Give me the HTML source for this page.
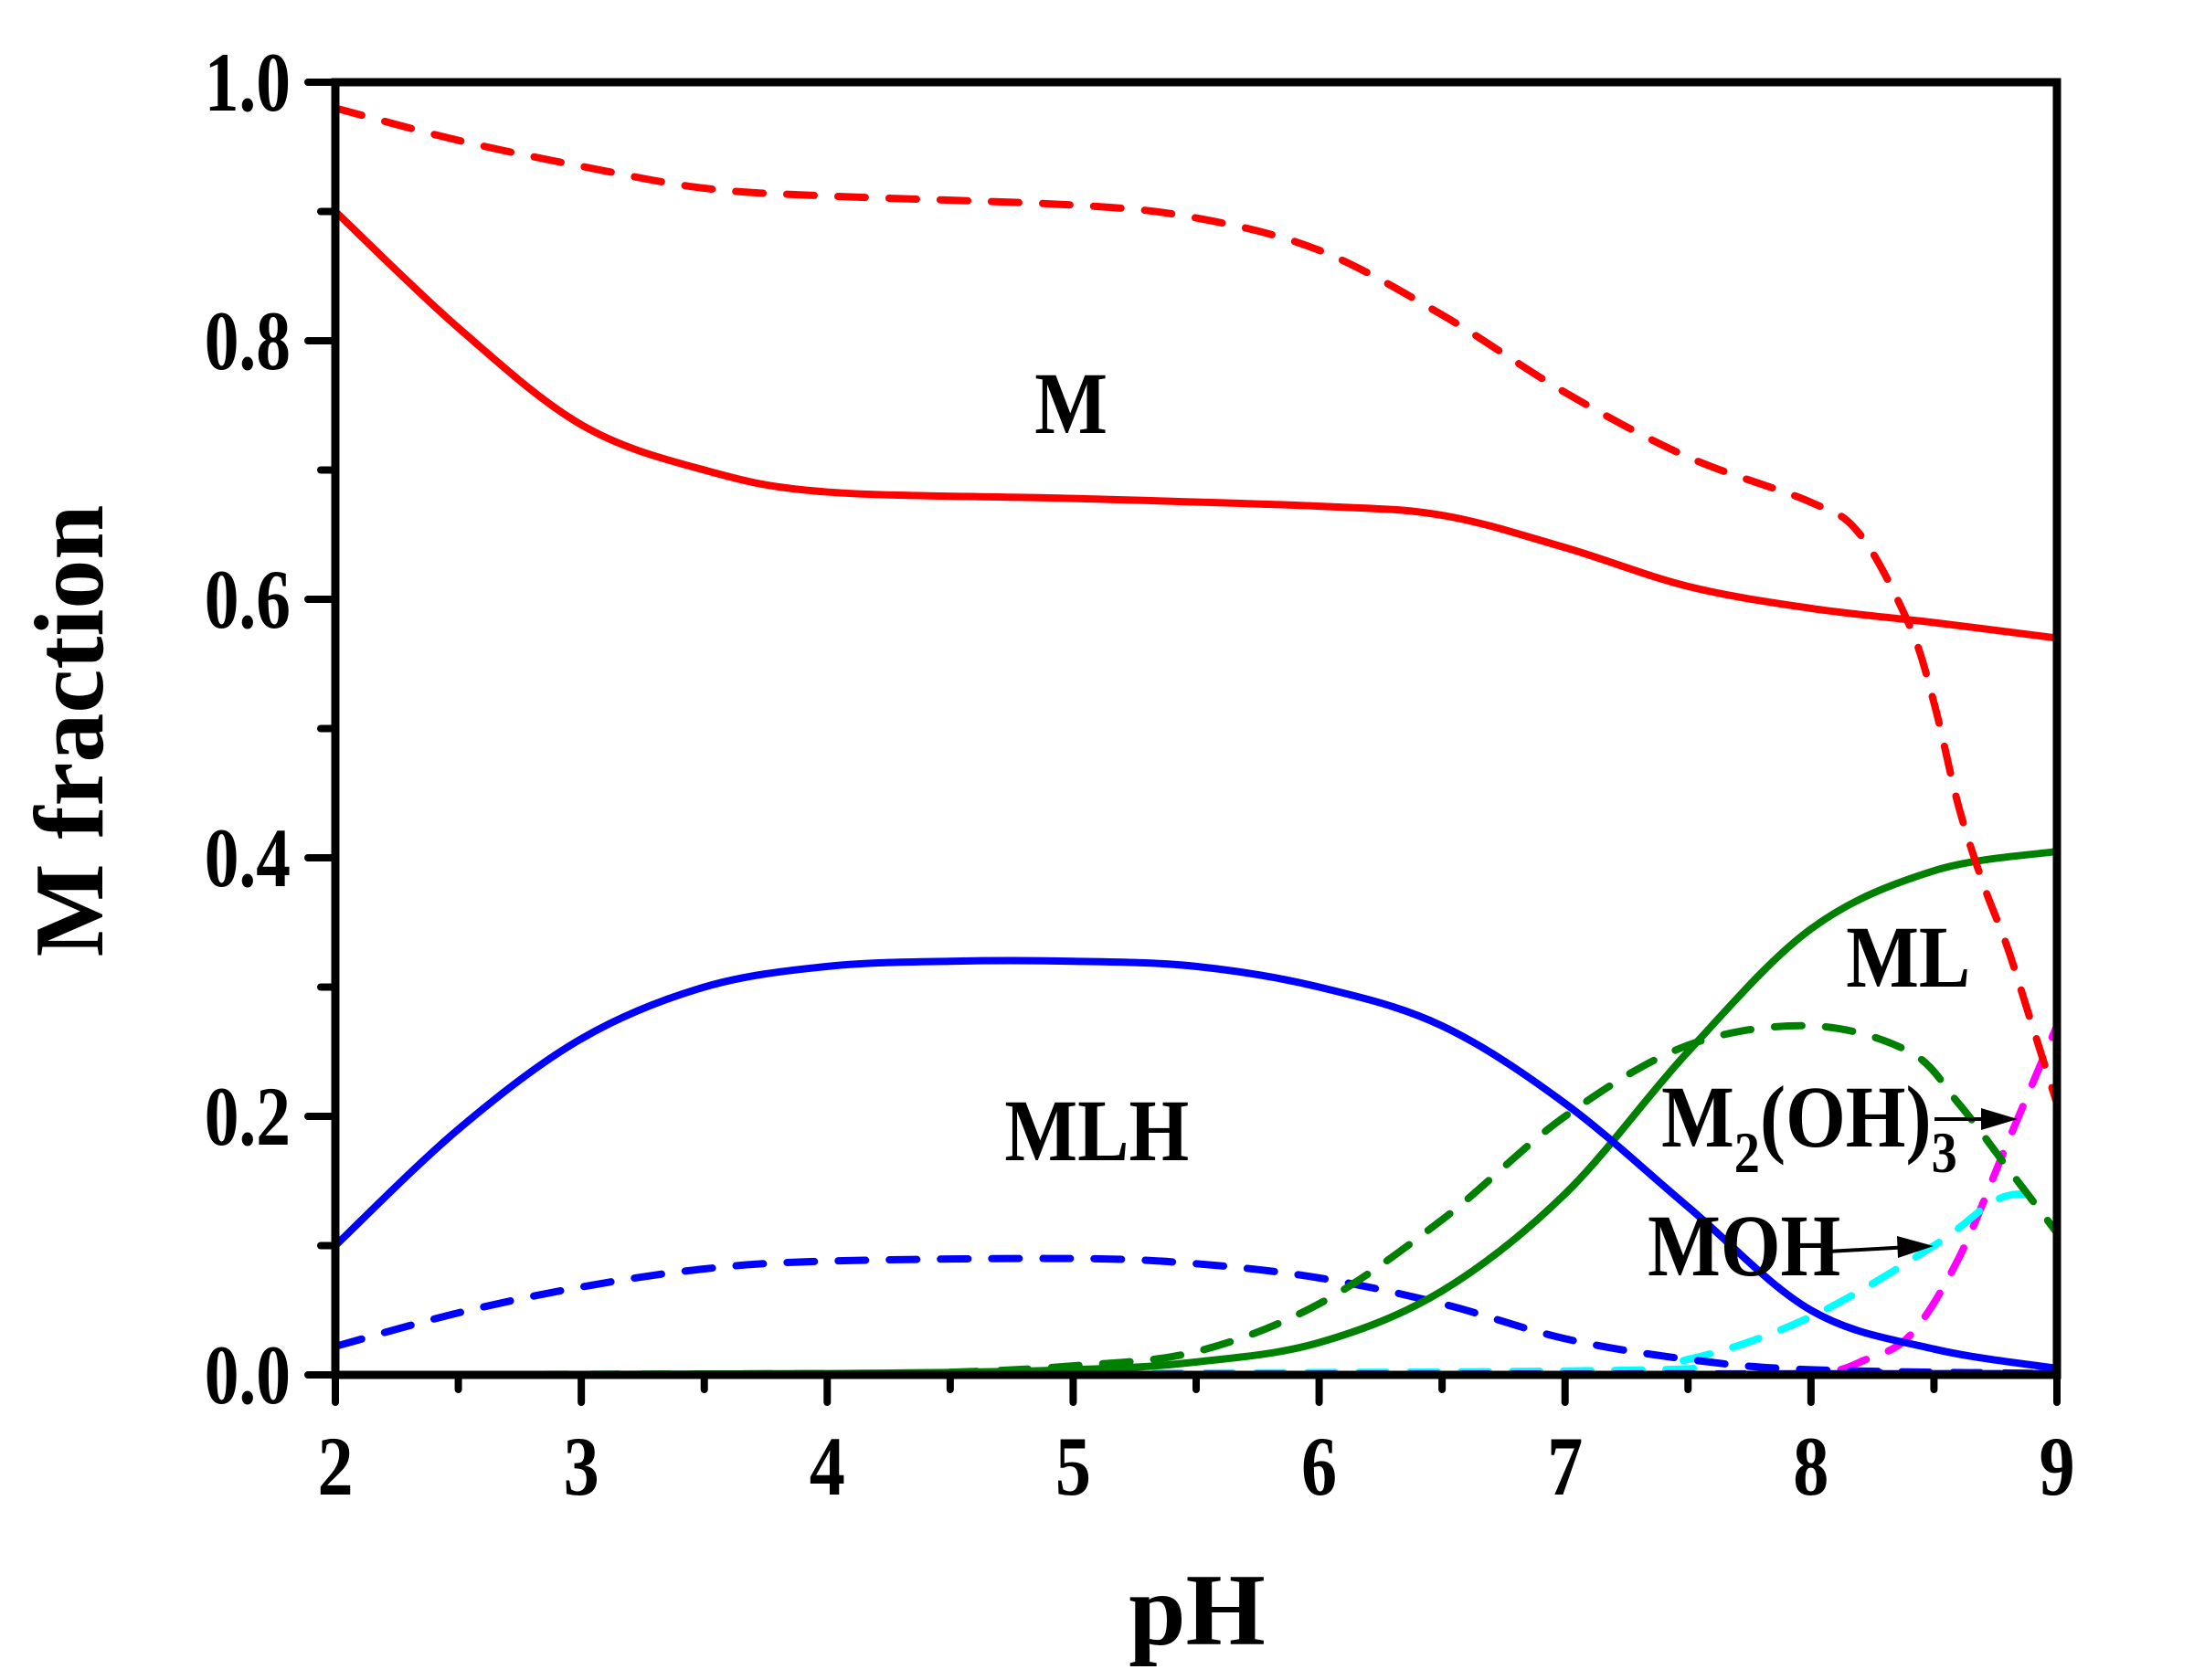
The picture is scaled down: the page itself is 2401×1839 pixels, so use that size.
<!DOCTYPE html>
<html><head><meta charset="utf-8"><style>
html,body{margin:0;padding:0;background:#fff;}
svg{display:block;}
text{font-family:"Liberation Serif",serif;font-weight:bold;fill:#000;}
</style></head><body>
<svg id="s" width="2401" height="1839" viewBox="0 0 2401 1839" xmlns="http://www.w3.org/2000/svg">
<g id="curves" fill="none" stroke-width="8" stroke-linecap="round"></g>
<g stroke="#000" stroke-linecap="round">
<rect x="367" y="90" width="1884" height="1415" fill="none" stroke-width="9"/>
<g id="ticks" stroke-width="8"></g>
</g>
<g font-size="92" text-anchor="end" id="ylab" transform="scale(0.82,1)"></g>
<g font-size="92" text-anchor="middle" id="xlab" transform="scale(0.85,1)"></g>
<text x="1310" y="1800" font-size="112" text-anchor="middle">pH</text>
<text transform="translate(112,800) rotate(-90)" font-size="108" text-anchor="middle">M fraction</text>
<g transform="scale(0.88,1)" font-size="96">
<text x="1332" y="474" text-anchor="middle">M</text>
<text x="1364" y="1270" text-anchor="middle">MLH</text>
<text x="2373" y="1080" text-anchor="middle">ML</text>
<text x="2066" y="1255">M<tspan font-size="64" dy="28">2</tspan><tspan dy="-28">(OH)</tspan><tspan font-size="64" dy="28">3</tspan></text>
<text x="2049" y="1396">MOH</text>
</g>
<g stroke="#000" stroke-width="4" fill="#000">
<line x1="2117" y1="1225" x2="2180" y2="1225"/><polygon points="2208,1225 2168,1213 2168,1237" stroke="none"/>
<line x1="2000" y1="1370" x2="2090" y2="1365"/><polygon points="2116,1364 2076,1353 2077,1377" stroke="none"/>
</g>
</svg>
<script>
var X=function(p){return 367+(p-2)*1884/7;},Y=function(f){return 1505-f*1415;};
var NS="http://www.w3.org/2000/svg";
function path(pts,col,dash){
 var P=pts.map(function(a){return [X(a[0]),Y(a[1])];});
 var d="M"+P[0][0]+","+P[0][1];
 for(var i=0;i<P.length-1;i++){
  var p0=P[i-1]||P[i],p1=P[i],p2=P[i+1],p3=P[i+2]||P[i+1];
  d+=" C"+(p1[0]+(p2[0]-p0[0])/6)+","+(p1[1]+(p2[1]-p0[1])/6)+" "+(p2[0]-(p3[0]-p1[0])/6)+","+(p2[1]-(p3[1]-p1[1])/6)+" "+p2[0]+","+p2[1];
 }
 var e=document.createElementNS(NS,"path");e.setAttribute("d",d);e.setAttribute("stroke",col);
 if(dash)e.setAttribute("stroke-dasharray","30 26");
 document.getElementById("curves").appendChild(e);
}
path([[2,0],[9,0]],"#ff0000",true);
path([[2,0],[8,0],[8.1,0.003],[8.2,0.01],[8.4,0.03],[8.6,0.09],[8.8,0.18],[9,0.27]],"#ff00ff",true);
path([[2,0],[7,0.003],[7.5,0.012],[8,0.045],[8.5,0.1],[8.75,0.135],[8.9,0.14],[8.95,0.138]],"#00ffff",true);
path([[2,0],[9,0.001]],"#0000ff",true);
path([[2,0.022],[2.5,0.048],[3,0.068],[3.5,0.082],[4,0.088],[5,0.09],[5.5,0.086],[6,0.075],[6.5,0.055],[7,0.028],[7.5,0.012],[8,0.004],[9,0.001]],"#0000ff",true);
path([[2,0],[4,0.001],[4.5,0.002],[5,0.007],[5.5,0.018],[6,0.055],[6.5,0.12],[7,0.2],[7.5,0.255],[8,0.27],[8.4,0.25],[8.6,0.21],[8.8,0.16],[9,0.11]],"#008000",true);
path([[2,0],[4,0.001],[5,0.004],[5.5,0.01],[6,0.025],[6.5,0.065],[7,0.14],[7.5,0.25],[8,0.345],[8.5,0.39],[9,0.405]],"#008000",false);
path([[2,0.1],[2.5,0.19],[3,0.26],[3.5,0.3],[4,0.316],[4.5,0.32],[5,0.32],[5.5,0.316],[6,0.3],[6.5,0.27],[7,0.21],[7.5,0.13],[8,0.05],[8.5,0.02],[9,0.005]],"#0000ff",false);
path([[2,0.9],[2.5,0.81],[3,0.735],[3.5,0.7],[4,0.683],[5,0.678],[6,0.672],[6.5,0.665],[7,0.64],[7.5,0.61],[8,0.593],[8.5,0.582],[9,0.57]],"#ff0000",false);
path([[2,0.98],[2.5,0.955],[3,0.935],[3.5,0.918],[4,0.912],[5,0.905],[5.5,0.895],[6,0.87],[6.5,0.82],[7,0.76],[7.5,0.71],[8,0.675],[8.2,0.65],[8.4,0.58],[8.5,0.52],[8.6,0.44],[8.7,0.38],[8.8,0.33],[8.9,0.27],[9,0.21]],"#ff0000",true);
var t=document.getElementById("ticks"),h="";
for(var i=0;i<=10;i++){var y=Y(i/10),L=i%2?16:30;h+='<line x1="'+(367-L)+'" y1="'+y+'" x2="367" y2="'+y+'"/>';}
for(var k=0;k<=14;k++){var x=X(2+k/2),L=k%2?16:30;h+='<line x1="'+x+'" y1="1505" x2="'+x+'" y2="'+(1505+L)+'"/>';}
t.innerHTML=h;
var yl="",xl="";
for(var i=0;i<=5;i++){yl+='<text x="'+(318/0.82)+'" y="'+(Y(i/5)+31)+'">'+(i/5).toFixed(1)+'</text>';}
for(var p=2;p<=9;p++){xl+='<text x="'+(X(p)/0.85)+'" y="1636">'+p+'</text>';}
document.getElementById("ylab").innerHTML=yl;document.getElementById("xlab").innerHTML=xl;
</script>
</body></html>
